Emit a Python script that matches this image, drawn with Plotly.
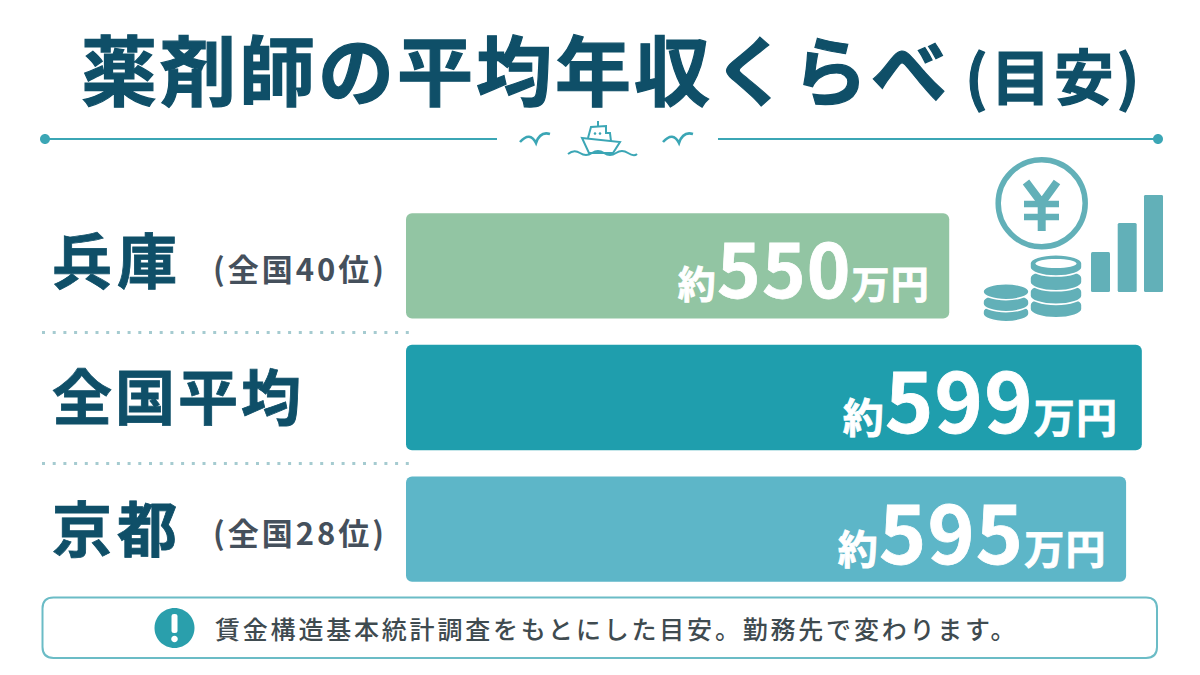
import json
import plotly.graph_objects as go

W, H = 1200, 675
FONT = "Noto Sans CJK JP"

# Chart data
regions = ["兵庫", "全国平均", "京都"]
salaries = [550, 599, 595]
ranks = ["(全国40位)", "", "(全国28位)"]
bar_colors = ["#92C5A3", "#1F9EAD", "#5DB6C8"]
number_sizes = [74, 82, 80]
unit_sizes = [38, 41, 40]
label_insets = [17, 22, 17]
label_lifts = [8, 4, 4]

title_main = "薬剤師の平均年収くらべ"
title_note = "\u2009(目安)"
note_text = "賃金構造基本統計調査をもとにした目安。勤務先で変わります。"

NAVY = "#0F4F68"
LINE = "#3BA6B5"
ICON = "#62B0B8"
AXIS_START = 411.8
AXIS_END = 613.8


def px(x):
    return x / W


def py(y):
    return 1 - y / H


def path(*parts):
    """Build an SVG path string from pixel coordinates on the page."""
    out = []
    for part in parts:
        if isinstance(part, str):
            out.append(part)
        else:
            out.append(f"{px(part[0]):.5f},{py(part[1]):.5f}")
    return " ".join(out)


def ellipse(cx, cy, rx, ry):
    k = 0.5523
    return path(
        "M", (cx - rx, cy),
        "C", (cx - rx, cy - k * ry), (cx - k * rx, cy - ry), (cx, cy - ry),
        "C", (cx + k * rx, cy - ry), (cx + rx, cy - k * ry), (cx + rx, cy),
        "C", (cx + rx, cy + k * ry), (cx + k * rx, cy + ry), (cx, cy + ry),
        "C", (cx - k * rx, cy + ry), (cx - rx, cy + k * ry), (cx - rx, cy), "Z",
    )


def coin(cx, cy, rx, ry, depth):
    k = 0.5523
    return path(
        "M", (cx - rx, cy),
        "C", (cx - rx, cy - k * ry), (cx - k * rx, cy - ry), (cx, cy - ry),
        "C", (cx + k * rx, cy - ry), (cx + rx, cy - k * ry), (cx + rx, cy),
        "L", (cx + rx, cy + depth),
        "C", (cx + rx, cy + depth + k * ry), (cx + k * rx, cy + depth + ry), (cx, cy + depth + ry),
        "C", (cx - k * rx, cy + depth + ry), (cx - rx, cy + depth + k * ry), (cx - rx, cy + depth), "Z",
    )


def round_rect(x0, y0, x1, y1, r):
    return path(
        "M", (x0 + r, y0), "L", (x1 - r, y0), "Q", (x1, y0), (x1, y0 + r),
        "L", (x1, y1 - r), "Q", (x1, y1), (x1 - r, y1),
        "L", (x0 + r, y1), "Q", (x0, y1), (x0, y1 - r),
        "L", (x0, y0 + r), "Q", (x0, y0), (x0 + r, y0), "Z",
    )


shapes = []


def stroke(d, color=LINE, width=2.0, dash="solid"):
    shapes.append(dict(type="path", path=d, xref="paper", yref="paper",
                       line=dict(color=color, width=width, dash=dash),
                       fillcolor="rgba(0,0,0,0)"))


def fill(d, color, line_color=None, line_width=0):
    shapes.append(dict(type="path", path=d, xref="paper", yref="paper", fillcolor=color,
                       line=dict(color=line_color or color, width=line_width)))


# Rule under the title, with a dot at each outer end
stroke(path("M", (45, 139), "L", (497, 139)))
stroke(path("M", (718, 139), "L", (1158, 139)))
fill(ellipse(45, 139, 5, 5), LINE)
fill(ellipse(1158, 139, 5, 5), LINE)

# Gulls and boat in the middle of the rule
for dx in (0, 143):
    stroke(path("M", (520 + dx, 142), "Q", (530 + dx, 131), (536 + dx, 143),
                "Q", (540 + dx, 131), (550 + dx, 134)), width=2.6)
stroke(path("M", (582, 138), "L", (620, 142), "L", (613, 153), "L", (589, 153), "Z"), width=2)
stroke(path("M", (588, 138), "L", (591, 127), "L", (606, 126), "L", (606, 133),
            "L", (610, 133), "L", (611, 141)), width=2)
stroke(path("M", (598, 121), "L", (598, 126)), width=2)
fill(ellipse(595, 133.5, 1.3, 1.3), LINE)
fill(ellipse(600, 133.5, 1.3, 1.3), LINE)
stroke(path("M", (568, 154), "Q", (574, 149), (580, 153), "T", (592, 153), "T", (604, 153),
            "T", (616, 153), "T", (628, 153), "T", (637, 154)), width=2)

# Dotted separators between the rows
for y in (332.5, 463.5):
    stroke(path("M", (42, y), "L", (415, y)), color="#A5CBD0", width=3, dash="3px,7.7px")

# Coin with a yen sign
stroke(ellipse(1041.7, 203.3, 43.5, 43.5), color=ICON, width=5.5)
stroke(path("M", (1026, 182), "L", (1041.7, 203), "L", (1057, 182)), color=ICON, width=8)
stroke(path("M", (1041.7, 203), "L", (1041.7, 231)), color=ICON, width=8)
stroke(path("M", (1024, 204), "L", (1059, 204)), color=ICON, width=6.5)
stroke(path("M", (1024, 217), "L", (1059, 217)), color=ICON, width=6.5)

# Coin stacks, drawn bottom to top
for cy in (311.7, 301.7):
    fill(coin(1006, cy, 23, 8, 2), ICON, "#FFFFFF", 1.6)
fill(ellipse(1006, 291.7, 23, 8), ICON, "#FFFFFF", 1.6)
for cy in (305, 291.7, 278):
    fill(coin(1056, cy, 26, 8.7, 4), ICON, "#FFFFFF", 1.6)
fill(coin(1056, 263.3, 26, 8.7, 4), ICON, "#FFFFFF", 1.6)
fill(ellipse(1056, 263.5, 20.5, 4.6), "#FFFFFF")

# Small rising columns beside the coins
for x0, top in ((1091, 252), (1117.7, 223), (1144, 195)):
    fill(round_rect(x0, top, x0 + 19, 292, 1.5), ICON)

# Footnote frame and its notice badge
stroke(round_rect(42.5, 597.5, 1157, 658, 11), color="#6BBCC6", width=2)
fill(ellipse(174.5, 628, 20, 20), "#2A9FAC")
fill(round_rect(171.5, 614, 177.5, 633, 2.5), "#FFFFFF")
fill(ellipse(174.5, 639, 3.3, 3.3), "#FFFFFF")

annotations = [
    dict(text=f'<b>{title_main}<span style="font-size:60px">{title_note}</span></b>',
         x=px(79), y=py(67), xref="paper", yref="paper",
         xanchor="left", yanchor="middle", align="left", showarrow=False,
         font=dict(family=FONT, size=76, color=NAVY)),
    dict(text=note_text, x=px(213), y=py(628), xref="paper", yref="paper",
         xanchor="left", yanchor="middle", align="left", showarrow=False,
         font=dict(family=FONT, size=25, color="#3F4B50", weight=500)),
]

for region, rank, value, num, unit, inset, lift in zip(
    regions, ranks, salaries, number_sizes, unit_sizes, label_insets, label_lifts
):
    annotations.append(dict(
        text=f"<b>{region}</b>", x=px(50), y=region, xref="paper", yref="y",
        xanchor="left", yanchor="middle", align="left", showarrow=False, yshift=lift,
        font=dict(family=FONT, size=60, color=NAVY),
    ))
    if rank:
        annotations.append(dict(
            text=f"<b>{rank}</b>", x=px(211), y=region, xref="paper", yref="y",
            xanchor="left", yanchor="middle", align="left", showarrow=False, yshift=-2,
            font=dict(family=FONT, size=31, color="#45505C"),
        ))
    annotations.append(dict(
        text=(f'<b>約<span style="font-size:{num}px">{value}</span>万円</b>'),
        x=value, y=region, xref="x", yref="y", xanchor="right", yanchor="middle",
        xshift=-inset, align="right", showarrow=False,
        font=dict(family=FONT, size=unit, color="#FFFFFF"),
    ))

fig = go.Figure(go.Bar(
    y=regions,
    x=[v - AXIS_START for v in salaries],
    base=AXIS_START,
    orientation="h",
    marker=dict(color=bar_colors, line=dict(width=0)),
    hoverinfo="skip",
))

fig.update_layout(
    width=W, height=H,
    margin=dict(l=0, r=0, t=0, b=0),
    paper_bgcolor="#FFFFFF", plot_bgcolor="rgba(0,0,0,0)",
    showlegend=False,
    bargap=0.2, barcornerradius=6,
    xaxis=dict(domain=[px(406), 1], range=[AXIS_START, AXIS_END], visible=False, fixedrange=True),
    yaxis=dict(domain=[py(595), py(200)], autorange="reversed", visible=False, fixedrange=True,
               categoryorder="array", categoryarray=regions),
    shapes=shapes,
    annotations=annotations,
)

# Wider tracking and a heavier stroke for the large headings
title_text = title_main + title_note
tracking = {title_text: "3px", note_text: "2.8px", "兵庫": "5px", "全国平均": "3px", "京都": "5px",
            ranks[0]: "3px", ranks[2]: "3px"}
emboldened = {title_text: "1.2px", "兵庫": "0.8px", "全国平均": "0.8px", "京都": "0.8px"}
for value in salaries:
    tracking[f"約{value}万円"] = "1.2px"
    emboldened[f"約{value}万円"] = "0.8px"
script = (
    "const tracking = " + json.dumps(tracking, ensure_ascii=False) + ";"
    "const emboldened = " + json.dumps(emboldened, ensure_ascii=False) + ";"
    "document.querySelectorAll('.annotation-text').forEach(t => {"
    " const key = t.textContent;"
    " if (tracking[key]) t.style.letterSpacing = tracking[key];"
    " if (emboldened[key]) { t.style.stroke = t.style.fill; t.style.strokeWidth = emboldened[key]; }"
    "});"
)
fig.write_html("out.html", post_script=script, config=dict(displayModeBar=False))
